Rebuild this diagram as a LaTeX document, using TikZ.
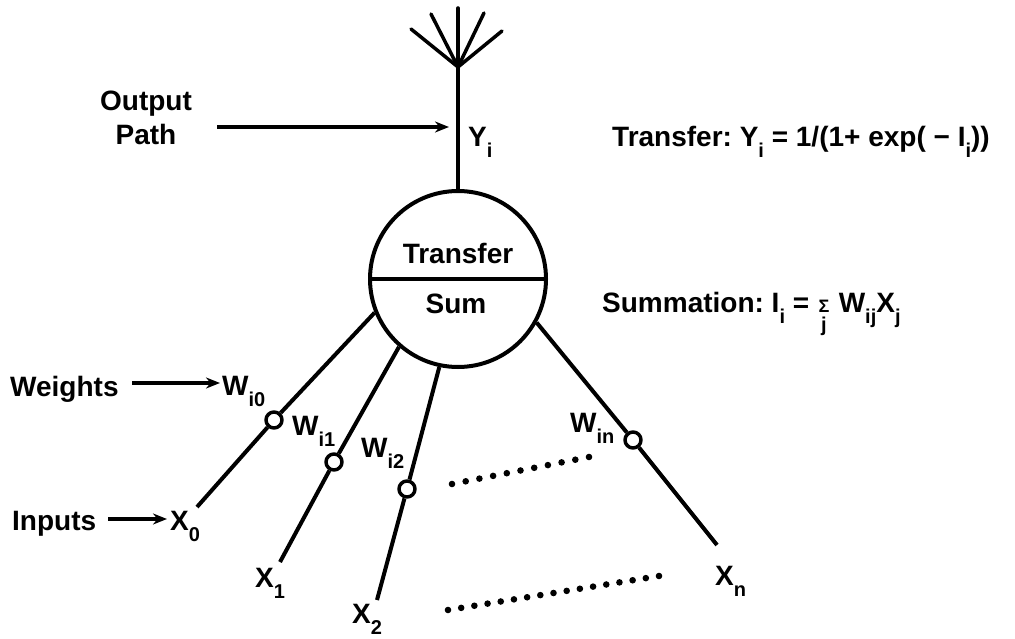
\documentclass[tikz,border=0pt]{standalone}
\usepackage{fontspec}
\setmainfont{Liberation Sans}
\usetikzlibrary{arrows.meta,calc}
\newcommand\sbs[1]{\raisebox{-11pt}{\fontsize{20}{20}\selectfont #1}}
\begin{document}
\frenchspacing
\begin{tikzpicture}[x=1pt,y=-1pt,line join=round,
  lbl/.style={font=\bfseries\fontsize{28}{30}\selectfont, inner sep=0pt, anchor=base west},
  clbl/.style={font=\bfseries\fontsize{28}{30}\selectfont, inner sep=0pt, anchor=base},
  conn/.style={line width=4pt},
  wt/.style={circle, draw, line width=3.5pt, fill=white, minimum size=16pt, inner sep=0pt},
  arr/.style={line width=3.5pt, -{Stealth[length=14pt,width=11pt]}},
  neur/.style={circle, draw, line width=4pt, minimum size=176pt, inner sep=0pt}]
\fill[white] (0,0) rectangle (1015,639);
\useasboundingbox (0,0) rectangle (1015,639);

% neuron
\node[neur] (neuron) at (458,279) {};
\draw[line width=4pt] (neuron.west) -- (neuron.east);
\node[clbl] (tr) at (458,263) {Transfer};
\node[clbl] (sm) at (456,313) {Sum};

% output path with antenna
\coordinate (apex) at (458,67);
\coordinate (t1) at (411,29);
\coordinate (t2) at (431,14);
\coordinate (t3) at (458,8);
\coordinate (t4) at (484,13);
\coordinate (t5) at (502,31);
\draw[conn] (neuron.north) -- (apex);
\foreach \t in {t1,t2,t3,t4,t5} \draw[line width=3.5pt, line cap=round] (apex) -- (\t);
\node[lbl] (yi) at (468,147) {Y\sbs{i}};

\node[clbl] (out1) at (146,111) {Output};
\node[clbl] (out2) at (146,145) {Path};
\coordinate (oa) at (217,127);
\coordinate (ob) at (449,127);
\draw[arr] (oa) -- (ob);

% formulas
\node[lbl] (ftr) at (612,147) {Transfer: Y\sbs{i} = 1/(1+ exp( − I\sbs{i}))};
\node[lbl] (fsm) at (602,312) {Summation: I\sbs{i} = \makebox[14pt]{\raisebox{-1pt}{\fontsize{18}{18}\selectfont Σ}}\llap{\makebox[14pt]{\raisebox{-20pt}{\fontsize{20}{20}\selectfont j}}} W\sbs{ij}X\sbs{j}};

% weights and inputs
\node[wt] (w0) at (274,420) {};
\node[wt] (w1) at (334,462) {};
\node[wt] (w2) at (407,489) {};
\node[wt] (wn) at (633,440) {};
\coordinate (e0) at (197,507);
\coordinate (e1) at (280,562);
\coordinate (e2) at (377,600);
\coordinate (en) at (717,545);
\draw[conn] (e0) -- (w0) -- (neuron.202);
\draw[conn] (e1) -- (w1) -- (neuron.229);
\draw[conn] (e2) -- (w2) -- (neuron.258.5);
\draw[conn] (en) -- (wn) -- (neuron.331);

\node[lbl] (lw0) at (222,395) {W\sbs{i0}};
\node[lbl] (lw1) at (292,435) {W\sbs{i1}};
\node[lbl] (lw2) at (361,457) {W\sbs{i2}};
\node[lbl] (lwn) at (570,432) {W\sbs{in}};

\node[lbl] (x0) at (170,530) {X\sbs{0}};
\node[lbl] (x1) at (255,587) {X\sbs{1}};
\node[lbl] (x2) at (352,623) {X\sbs{2}};
\node[lbl] (xn) at (715,585) {X\sbs{n}};

\node[lbl] (wts) at (10,396) {Weights};
\coordinate (wa) at (132,383);
\coordinate (wb) at (220,383);
\draw[arr] (wa) -- (wb);

\node[lbl] (inp) at (12,530) {Inputs};
\coordinate (ia) at (108,519);
\coordinate (ib) at (167,519);
\draw[arr] (ia) -- (ib);

% dotted rows
\coordinate (u1) at (452,484);
\coordinate (u2) at (589,457);
\coordinate (l1) at (448,610);
\coordinate (l2) at (659,576);
\foreach \i in {0,...,10} \fill ($(u1)!\i/10!(u2)$) circle (3.3pt);
\foreach \i in {0,...,16} \fill ($(l1)!\i/16!(l2)$) circle (3.3pt);
\end{tikzpicture}
\end{document}
